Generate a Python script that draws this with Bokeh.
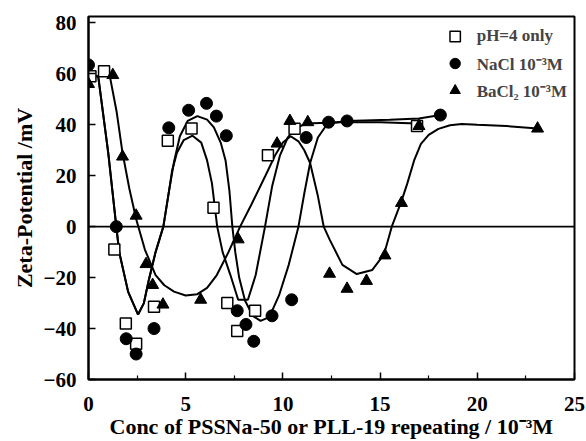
from bokeh.plotting import figure
from bokeh.models import Span, Legend, LegendItem, FixedTicker, Range1d
from bokeh.embed import file_html
from bokeh.resources import INLINE

# ---- data ----
x_ticks = [0, 5, 10, 15, 20, 25]
y_ticks = [-60, -40, -20, 0, 20, 40, 60, 80]

ph4_x = [0.1, 0.8, 1.33, 1.92, 2.45, 3.37, 4.08, 5.3, 6.43, 7.14, 7.65, 8.57, 9.23, 10.6, 16.9]
ph4_y = [59, 61, -9, -38, -46, -31.4, 33.7, 38.5, 7.4, -30, -41, -33, 28, 38.4, 39.5]

nacl_x = [0.0, 1.43, 1.94, 2.45, 3.37, 4.13, 5.15, 6.07, 6.58, 7.09, 7.65, 8.1, 8.5, 9.44, 10.45, 11.2, 12.35, 13.3, 18.1]
nacl_y = [63.5, 0, -44, -50, -40, 38.8, 45.7, 48.4, 43.4, 35.7, -33, -38.4, -45, -35, -28.7, 35, 41, 41.5, 43.8]

bacl_x = [0.0, 1.25, 1.75, 2.45, 2.96, 3.3, 3.83, 5.77, 7.7, 9.7, 10.36, 11.28, 12.4, 13.3, 14.3, 15.25, 16.1, 17.0, 23.1]
bacl_y = [56, 59.5, 27.5, 4.3, -14.7, -22.9, -30.6, -28.7, -5, 32.6, 41.5, 41, -18.5, -24.4, -21.3, -11.3, 9.3, 39.5, 38.5]

# fitted curves
ph4_curve_x = [0.2, 0.5, 1.02, 1.43, 1.58, 2.04, 2.55, 2.85, 3.1, 3.45, 3.85, 4.1, 4.3,
               4.55, 4.9, 5.35, 5.8, 6.1, 6.35, 6.62, 6.9, 7.3, 7.7, 8.2, 8.6, 9.08, 9.45,
               9.85, 10.25, 10.6, 11.2, 13.0, 15.0, 16.9]
ph4_curve_y = [59, 59, 28.7, 0, -10, -25.6, -34.5, -30, -21, -10, 0, 12, 22,
               29, 34, 35.7, 33, 26, 17, 0, -10, -19, -28.7, -28.7, -19, 0, 16,
               28, 35, 38.5, 40.5, 41, 41, 40.5]

nacl_curve_x = [0.2, 0.5, 1.02, 1.43, 1.58, 2.04, 2.55, 2.85, 3.1, 3.45, 3.85, 4.1, 4.4,
                4.7, 5.1, 5.6, 6.1, 6.45, 6.8, 7.05, 7.25, 7.4, 7.55, 7.75, 8.05, 8.45,
                8.85, 9.3, 9.8, 10.3, 10.8, 11.1, 11.4, 11.8, 12.3, 13.3, 15.5, 17.0, 18.1]
nacl_curve_y = [59, 59, 28.7, 0, -10, -25.6, -34.5, -30, -21, -10, 0, 12, 25.5,
                35.5, 41.5, 43.4, 42, 39, 33, 26, 14, 0, -10, -20, -29, -35,
                -37, -35.5, -27, -15, 0, 13, 25, 35, 40.5, 41.5, 42, 42.5, 43.8]

bacl_curve_x = [0.55, 0.85, 1.1, 1.45, 1.75, 2.1, 2.45, 2.9, 3.45, 3.9, 4.4, 5.0, 5.6, 6.1,
                6.6, 7.2, 7.8, 8.4, 9.1, 9.6, 10.0, 10.4, 10.8, 11.1, 11.4, 11.8, 12.1,
                12.4, 13.06, 13.8, 14.6, 15.2, 15.6, 16.1, 16.4, 16.75, 17.1, 17.5, 18.0,
                18.6, 19.2, 20.0, 21.5, 23.1]
bacl_curve_y = [59, 61, 59, 45, 29, 15, 3, -9, -19, -23, -25.5, -27, -26.5, -24,
                -19, -10, 0, 9, 20, 28, 33, 35.5, 33.5, 30, 25, 12, 0,
                -5, -15, -18.6, -17, -10.9, 0, 10, 17, 26, 32.5, 36, 38.4,
                39.8, 40.3, 40, 39.5, 38.5]

SERIF = "Liberation Serif"

p = figure(width=586, height=441, output_backend="svg", toolbar_location=None,
           x_range=Range1d(0, 25), y_range=Range1d(-60, 82.5),
           min_border_left=88, min_border_right=12, min_border_top=16, min_border_bottom=59)
p.xgrid.visible = False
p.ygrid.visible = False
p.background_fill_color = "white"
p.border_fill_color = "white"
p.outline_line_color = "black"
p.outline_line_width = 2

p.add_layout(Span(location=0, dimension="width", line_color="black", line_width=1.6))

for cx, cy in [(ph4_curve_x, ph4_curve_y), (nacl_curve_x, nacl_curve_y), (bacl_curve_x, bacl_curve_y)]:
    p.line(cx, cy, line_color="black", line_width=2)

r_sq = p.scatter(ph4_x, ph4_y, marker="square", size=11, fill_color="white",
                 line_color="black", line_width=1.5)
r_ci = p.scatter(nacl_x, nacl_y, marker="circle", size=12, fill_color="black",
                 line_color="black")
r_tr = p.scatter(bacl_x, bacl_y, marker="triangle", size=12, fill_color="black",
                 line_color="black")

legend = Legend(items=[LegendItem(label="pH=4 only", renderers=[r_sq]),
                       LegendItem(label="NaCl 10\u207b\u00b3M", renderers=[r_ci]),
                       LegendItem(label="BaCl\u2082 10\u207b\u00b3M", renderers=[r_tr])],
                location="top_right", background_fill_alpha=0, border_line_alpha=0,
                label_text_font=SERIF, label_text_font_size="17px",
                label_text_font_style="bold", glyph_width=26, glyph_height=26,
                label_height=26, label_standoff=9, spacing=1, padding=0, margin=7)
legend.margin = 7
p.add_layout(legend)

for ax in (p.xaxis[0], p.yaxis[0]):
    ax.axis_line_width = 2
    ax.axis_line_color = "black"
    ax.major_tick_in = 7
    ax.major_tick_out = 0
    ax.minor_tick_in = 4
    ax.minor_tick_out = 0
    ax.major_tick_line_width = 1.5
    ax.minor_tick_line_width = 1.2
    ax.major_label_text_font = SERIF
    ax.major_label_text_font_size = "21px"
    ax.major_label_text_font_style = "bold"
    ax.major_label_text_color = "black"
    ax.axis_label_text_font = SERIF
    ax.axis_label_text_font_size = "22px"
    ax.axis_label_text_font_style = "bold"
    ax.axis_label_text_color = "black"

p.xaxis[0].ticker = FixedTicker(ticks=x_ticks, minor_ticks=[2.5, 7.5, 12.5, 17.5, 22.5])
p.yaxis[0].ticker = FixedTicker(ticks=y_ticks, minor_ticks=[])
p.xaxis[0].major_label_standoff = 17
p.yaxis[0].major_label_standoff = 12
p.xaxis[0].axis_label = "Conc of PSSNa-50 or PLL-19 repeating / 10\u207b\u00b3M"
p.yaxis[0].axis_label = "Zeta-Potential /mV"
p.xaxis[0].axis_label_standoff = 0
p.yaxis[0].axis_label_standoff = 4

open("out.html", "w").write(file_html(p, INLINE))
